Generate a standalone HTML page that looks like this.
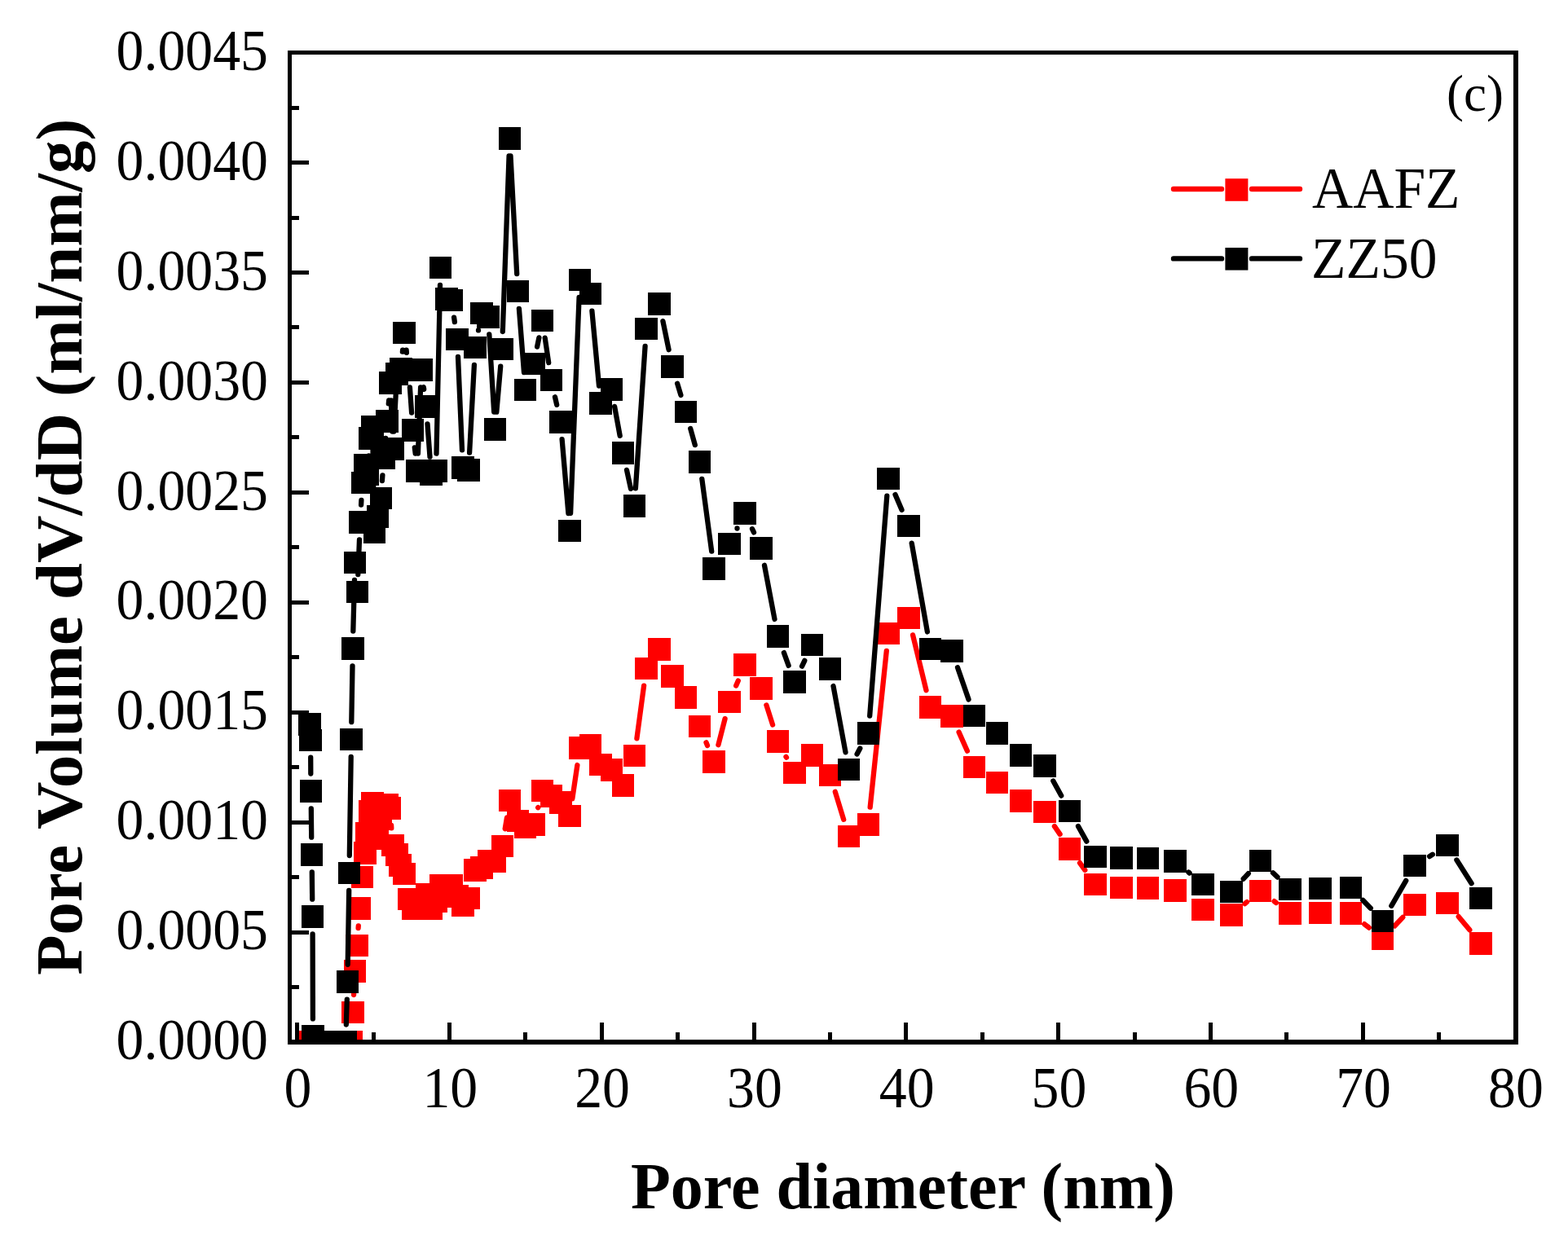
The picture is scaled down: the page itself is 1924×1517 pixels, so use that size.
<!DOCTYPE html>
<html><head><meta charset="utf-8"><title>Pore size distribution</title>
<style>html,body{margin:0;padding:0;background:#fff;width:1924px;height:1517px;overflow:hidden}svg{display:block}</style>
</head><body>
<svg width="1924" height="1517" viewBox="0 0 1924 1517">
<rect width="1924" height="1517" fill="#fff"/>
<defs><clipPath id="c"><rect x="355.5" y="64.65" width="1504.5" height="1214.25"/></clipPath></defs>
<g clip-path="url(#c)">
<path d="M434.1 1221L434.4 1213.4M439.6 1139L439.8 1136.3M480.1 1013L480.3 1016.3M619.7 1017.3L622 1003.4M660.2 991.2L660.3 991.1M702.3 980.2L708.4 939M781.4 906.3L790.1 841.6M866.5 911.3L868 915M881.4 914.2L889.6 882.1M903.2 841.6L905.8 835.6M940.4 865.4L948.1 889.6M964.5 928.9L965 929.7M1024.8 971.8L1035.2 1005.8M1067.7 990.7L1087.8 798.8M1120.1 779.4L1136.5 847.2M1176.6 898.6L1186.9 921.7M1293.9 1014.1L1300.6 1023.9M1325 1059.1L1331.3 1067.9M1527.5 1109.2L1530 1107M1563.6 1106.2L1565.9 1108M1674.2 1134.2L1679.8 1138.6M1711.2 1136.5L1721.3 1125.8M1789.7 1124.9L1803.3 1141.3" fill="none" stroke="#ff0000" stroke-width="6.3" stroke-linecap="round"/>
<path d="M366.9 1265.1h27.6v27.6h-27.6zM367.7 1265.1h27.6v27.6h-27.6zM368.7 1265.1h27.6v27.6h-27.6zM369.7 1265.1h27.6v27.6h-27.6zM370.2 1265.1h27.6v27.6h-27.6zM372.2 1265.1h27.6v27.6h-27.6zM373 1265.1h27.6v27.6h-27.6zM373.8 1265.1h27.6v27.6h-27.6zM374.6 1265.1h27.6v27.6h-27.6zM375.4 1265.1h27.6v27.6h-27.6zM376.3 1265.1h27.6v27.6h-27.6zM377.2 1265.1h27.6v27.6h-27.6zM378.2 1265.1h27.6v27.6h-27.6zM379.2 1265.1h27.6v27.6h-27.6zM380.2 1265.1h27.6v27.6h-27.6zM381.3 1265.1h27.6v27.6h-27.6zM382.3 1265.1h27.6v27.6h-27.6zM383.5 1265.1h27.6v27.6h-27.6zM384.7 1265.1h27.6v27.6h-27.6zM385.9 1265.1h27.6v27.6h-27.6zM387.1 1265.1h27.6v27.6h-27.6zM388.4 1265.1h27.6v27.6h-27.6zM389.8 1265.1h27.6v27.6h-27.6zM391.2 1265.1h27.6v27.6h-27.6zM392.7 1265.1h27.6v27.6h-27.6zM394.2 1265.1h27.6v27.6h-27.6zM395.7 1265.1h27.6v27.6h-27.6zM397.3 1265.1h27.6v27.6h-27.6zM399 1265.1h27.6v27.6h-27.6zM400.7 1265.1h27.6v27.6h-27.6zM402.5 1265.1h27.6v27.6h-27.6zM404.4 1265.1h27.6v27.6h-27.6zM406.3 1265.1h27.6v27.6h-27.6zM408.3 1265.1h27.6v27.6h-27.6zM410.4 1265.1h27.6v27.6h-27.6zM412.6 1265.1h27.6v27.6h-27.6zM414.7 1265.1h27.6v27.6h-27.6zM417.3 1265.1h27.6v27.6h-27.6zM419.2 1228.6h27.6v27.6h-27.6zM421.7 1178.2h27.6v27.6h-27.6zM424.3 1146.5h27.6v27.6h-27.6zM427.5 1101.2h27.6v27.6h-27.6zM430.5 1062.7h27.6v27.6h-27.6zM434 1033h27.6v27.6h-27.6zM436 1008.9h27.6v27.6h-27.6zM440.2 982h27.6v27.6h-27.6zM443 972.1h27.6v27.6h-27.6zM445.5 986.2h27.6v27.6h-27.6zM449.5 1015.3h27.6v27.6h-27.6zM453.5 991.2h27.6v27.6h-27.6zM457.2 976.2h27.6v27.6h-27.6zM461.2 974h27.6v27.6h-27.6zM464.4 977.9h27.6v27.6h-27.6zM468.4 1023.8h27.6v27.6h-27.6zM473.4 1034.9h27.6v27.6h-27.6zM477.2 1047.9h27.6v27.6h-27.6zM482.2 1058.5h27.6v27.6h-27.6zM488 1089.5h27.6v27.6h-27.6zM493 1100.9h27.6v27.6h-27.6zM498.2 1091.2h27.6v27.6h-27.6zM503.2 1096.2h27.6v27.6h-27.6zM509.8 1084h27.6v27.6h-27.6zM515.4 1101.2h27.6v27.6h-27.6zM521.4 1092.4h27.6v27.6h-27.6zM527 1073h27.6v27.6h-27.6zM534.2 1076.2h27.6v27.6h-27.6zM540.4 1073h27.6v27.6h-27.6zM547.2 1086.2h27.6v27.6h-27.6zM554.4 1097.2h27.6v27.6h-27.6zM561.4 1088.6h27.6v27.6h-27.6zM569.4 1054.4h27.6v27.6h-27.6zM577 1051h27.6v27.6h-27.6zM586 1043h27.6v27.6h-27.6zM593.4 1043.2h27.6v27.6h-27.6zM602.5 1024.6h27.6v27.6h-27.6zM611.6 968.5h27.6v27.6h-27.6zM621.5 993.8h27.6v27.6h-27.6zM630.8 1001h27.6v27.6h-27.6zM641.2 998.1h27.6v27.6h-27.6zM651.7 956.6h27.6v27.6h-27.6zM662.6 963.2h27.6v27.6h-27.6zM674 970.9h27.6v27.6h-27.6zM685.4 987.6h27.6v27.6h-27.6zM697.7 904h27.6v27.6h-27.6zM710.6 901h27.6v27.6h-27.6zM723.2 924.6h27.6v27.6h-27.6zM736.5 930.9h27.6v27.6h-27.6zM750.7 950.2h27.6v27.6h-27.6zM764.7 913.7h27.6v27.6h-27.6zM779.2 806.6h27.6v27.6h-27.6zM795.2 783.2h27.6v27.6h-27.6zM811.2 816h27.6v27.6h-27.6zM827.7 842h27.6v27.6h-27.6zM844.7 877.6h27.6v27.6h-27.6zM862.2 921.1h27.6v27.6h-27.6zM881.2 847.6h27.6v27.6h-27.6zM900.2 802h27.6v27.6h-27.6zM920.2 831.2h27.6v27.6h-27.6zM940.7 896.2h27.6v27.6h-27.6zM961.2 934.8h27.6v27.6h-27.6zM982.6 913.2h27.6v27.6h-27.6zM1004.8 937.5h27.6v27.6h-27.6zM1027.6 1012.5h27.6v27.6h-27.6zM1051.7 998.2h27.6v27.6h-27.6zM1076.2 763.7h27.6v27.6h-27.6zM1101.2 744.8h27.6v27.6h-27.6zM1127.8 854.2h27.6v27.6h-27.6zM1154.2 865.2h27.6v27.6h-27.6zM1181.7 927.5h27.6v27.6h-27.6zM1209.6 946.6h27.6v27.6h-27.6zM1238.6 969h27.6v27.6h-27.6zM1268.2 982.5h27.6v27.6h-27.6zM1298.7 1027.9h27.6v27.6h-27.6zM1330 1071.5h27.6v27.6h-27.6zM1362.2 1075.5h27.6v27.6h-27.6zM1394.7 1076h27.6v27.6h-27.6zM1428.2 1079.4h27.6v27.6h-27.6zM1462.2 1102.5h27.6v27.6h-27.6zM1497.2 1109h27.6v27.6h-27.6zM1532.7 1079.6h27.6v27.6h-27.6zM1569.2 1107h27.6v27.6h-27.6zM1606.2 1106.6h27.6v27.6h-27.6zM1643.7 1107h27.6v27.6h-27.6zM1682.7 1138.2h27.6v27.6h-27.6zM1722.2 1096.5h27.6v27.6h-27.6zM1762.2 1094.6h27.6v27.6h-27.6zM1803.2 1144h27.6v27.6h-27.6z" fill="#ff0000" shape-rendering="crispEdges"/>
<path d="M381.2 929.7L381.3 949.5M381.8 992.3L382.2 1027.6M382.8 1070.4L383.2 1103.6M383.6 1146.4L383.9 1250.4M424.8 1257.5L425.8 1226.6M426.7 1183.8L428.2 1092.8M428.8 1050L430.7 928.9M431.3 886.1L432.5 817.4M433.3 774.6L435 711.9M439.3 705.1L441 662.4M443.1 619.6L443.4 614M452.5 560.6L452.5 559.4M457.4 545.4L458.9 631.6M468.9 590.1L469.4 583.3M472.9 540.7L473.1 538M476.8 495.4L477.2 491.3M479.8 491.4L481.4 529.6M483.3 529.6L485.9 480.4M493.9 431.7L494.1 429.7M498.6 429.6L498.9 432.8M502.9 475.4L505.1 506.6M508.8 549.3L509.7 556.7M512.9 556.6L516.1 475.4M519.8 475.2L520.2 477.8M524.5 520.3L527.5 560.7M535.5 556.6L540 349.8M557.1 389.6L557.9 395.2M562 437.8L567 552.3M576.1 555.6L581.9 447.8M587 405.4L587 405.4M600.3 410.4L606.2 505.6M609.3 505.7L614.2 449.7M616.8 407L624.6 191.4M626.5 191.4L634.2 336.1M636.9 378.8L643 457.1M659.1 425.6L661.4 414.4M668.7 414.6L673.2 445.1M681 487.2L683.2 496.9M689.6 539.1L697.4 630.1M700.1 630L710.6 364.8M726.4 381.7L735 473.5M754.1 498.9L760.7 534.9M769 576.9L774 599.8M779.9 599.3L791.6 424.9M813.4 394.2L820.6 429.2M831.1 470.7L835.4 484.9M847.2 526L852.8 546.1M861.3 587.9L873.2 676.6M904.5 648.5L904.5 648.5M923 649.2L925 653.4M938 693.8L950.5 760M961.9 801.1L967.6 816.9M984.1 817.6L987.3 810.8M1022.5 842L1037.5 923.3M1051.6 925.5L1055.3 918.6M1067.2 878.5L1088.3 608.7M1098.5 607.1L1106.5 625.8M1118.7 666.6L1137.9 775.5M1175 819.2L1188.5 858.4M1292.3 958.6L1302.2 976.6M1323 1014.1L1333.3 1032.6M1458.4 1070.5L1459.6 1071.5M1525.7 1078.7L1531.8 1072.1M1562 1071.3L1567.5 1076.6M1672.2 1104.8L1681.8 1114.8M1707.3 1111.8L1725.2 1080.9M1754.1 1051.1L1757.9 1048.7M1787.4 1055.5L1805.6 1084.2" fill="none" stroke="#000" stroke-width="6.3" stroke-linecap="round"/>
<path d="M366.2 875h27.6v27.6h-27.6zM367.2 894.5h27.6v27.6h-27.6zM367.7 957.1h27.6v27.6h-27.6zM368.7 1035.2h27.6v27.6h-27.6zM369.7 1111.2h27.6v27.6h-27.6zM370.2 1258h27.6v27.6h-27.6zM372.2 1265.1h27.6v27.6h-27.6zM373 1265.1h27.6v27.6h-27.6zM373.8 1265.1h27.6v27.6h-27.6zM374.6 1265.1h27.6v27.6h-27.6zM375.4 1265.1h27.6v27.6h-27.6zM376.3 1265.1h27.6v27.6h-27.6zM377.2 1265.1h27.6v27.6h-27.6zM378.2 1265.1h27.6v27.6h-27.6zM379.2 1265.1h27.6v27.6h-27.6zM380.2 1265.1h27.6v27.6h-27.6zM381.3 1265.1h27.6v27.6h-27.6zM382.3 1265.1h27.6v27.6h-27.6zM383.5 1265.1h27.6v27.6h-27.6zM384.7 1265.1h27.6v27.6h-27.6zM385.9 1265.1h27.6v27.6h-27.6zM387.1 1265.1h27.6v27.6h-27.6zM388.4 1265.1h27.6v27.6h-27.6zM389.8 1265.1h27.6v27.6h-27.6zM391.2 1265.1h27.6v27.6h-27.6zM392.7 1265.1h27.6v27.6h-27.6zM394.2 1265.1h27.6v27.6h-27.6zM395.7 1265.1h27.6v27.6h-27.6zM397.3 1265.1h27.6v27.6h-27.6zM399 1265.1h27.6v27.6h-27.6zM400.7 1265.1h27.6v27.6h-27.6zM402.5 1265.1h27.6v27.6h-27.6zM404.4 1265.1h27.6v27.6h-27.6zM406.3 1265.1h27.6v27.6h-27.6zM408.3 1265.1h27.6v27.6h-27.6zM410.4 1265.1h27.6v27.6h-27.6zM412.6 1191.4h27.6v27.6h-27.6zM414.7 1057.6h27.6v27.6h-27.6zM417.2 893.7h27.6v27.6h-27.6zM419 782.2h27.6v27.6h-27.6zM421.7 676.7h27.6v27.6h-27.6zM424.7 712.7h27.6v27.6h-27.6zM428 627.2h27.6v27.6h-27.6zM430.9 578.8h27.6v27.6h-27.6zM434.2 557.2h27.6v27.6h-27.6zM437.2 568.2h27.6v27.6h-27.6zM440.2 524.2h27.6v27.6h-27.6zM443.2 510.2h27.6v27.6h-27.6zM445.5 639.2h27.6v27.6h-27.6zM449.5 620.2h27.6v27.6h-27.6zM453.5 597.6h27.6v27.6h-27.6zM457.2 548.2h27.6v27.6h-27.6zM461.2 502.9h27.6v27.6h-27.6zM465.2 456.2h27.6v27.6h-27.6zM468.4 537.2h27.6v27.6h-27.6zM473.2 445.2h27.6v27.6h-27.6zM478.2 439.2h27.6v27.6h-27.6zM482.2 394.6h27.6v27.6h-27.6zM487.7 440.2h27.6v27.6h-27.6zM492.7 514.2h27.6v27.6h-27.6zM498.2 564.2h27.6v27.6h-27.6zM503.2 440.2h27.6v27.6h-27.6zM509.2 485.2h27.6v27.6h-27.6zM515.2 568.2h27.6v27.6h-27.6zM521.2 564.2h27.6v27.6h-27.6zM526.7 314.6h27.6v27.6h-27.6zM534.2 353.2h27.6v27.6h-27.6zM540.2 354.6h27.6v27.6h-27.6zM547.2 402.6h27.6v27.6h-27.6zM554.2 559.9h27.6v27.6h-27.6zM561.2 563.2h27.6v27.6h-27.6zM569.2 412.6h27.6v27.6h-27.6zM577.2 370.7h27.6v27.6h-27.6zM585.2 375.2h27.6v27.6h-27.6zM593.7 513.2h27.6v27.6h-27.6zM602.2 414.6h27.6v27.6h-27.6zM611.6 156.2h27.6v27.6h-27.6zM621.5 343.7h27.6v27.6h-27.6zM630.8 464.6h27.6v27.6h-27.6zM641.2 432.8h27.6v27.6h-27.6zM651.7 379.6h27.6v27.6h-27.6zM662.6 452.5h27.6v27.6h-27.6zM674 504h27.6v27.6h-27.6zM685.4 637.6h27.6v27.6h-27.6zM697.7 329.6h27.6v27.6h-27.6zM710.6 346.6h27.6v27.6h-27.6zM723.2 481h27.6v27.6h-27.6zM736.5 464h27.6v27.6h-27.6zM750.7 542.2h27.6v27.6h-27.6zM764.7 606.9h27.6v27.6h-27.6zM779.2 389.7h27.6v27.6h-27.6zM795.2 359.4h27.6v27.6h-27.6zM811.2 436.4h27.6v27.6h-27.6zM827.7 491.6h27.6v27.6h-27.6zM844.7 552.9h27.6v27.6h-27.6zM862.2 684h27.6v27.6h-27.6zM881.2 653.5h27.6v27.6h-27.6zM900.2 616h27.6v27.6h-27.6zM920.2 659h27.6v27.6h-27.6zM940.7 767.2h27.6v27.6h-27.6zM961.2 823.2h27.6v27.6h-27.6zM982.6 777.6h27.6v27.6h-27.6zM1004.8 807.2h27.6v27.6h-27.6zM1027.6 930.5h27.6v27.6h-27.6zM1051.7 886h27.6v27.6h-27.6zM1076.2 573.6h27.6v27.6h-27.6zM1101.2 631.7h27.6v27.6h-27.6zM1127.8 782.8h27.6v27.6h-27.6zM1154.2 785.2h27.6v27.6h-27.6zM1181.7 864.8h27.6v27.6h-27.6zM1209.6 886h27.6v27.6h-27.6zM1238.6 913.2h27.6v27.6h-27.6zM1268.2 926h27.6v27.6h-27.6zM1298.7 981.6h27.6v27.6h-27.6zM1330 1037.5h27.6v27.6h-27.6zM1362.2 1039.2h27.6v27.6h-27.6zM1394.7 1039.6h27.6v27.6h-27.6zM1428.2 1042.9h27.6v27.6h-27.6zM1462.2 1071.5h27.6v27.6h-27.6zM1497.2 1080.5h27.6v27.6h-27.6zM1532.7 1042.7h27.6v27.6h-27.6zM1569.2 1077.6h27.6v27.6h-27.6zM1606.2 1076.6h27.6v27.6h-27.6zM1643.7 1075.5h27.6v27.6h-27.6zM1682.7 1116.5h27.6v27.6h-27.6zM1722.2 1048.6h27.6v27.6h-27.6zM1762.2 1023.6h27.6v27.6h-27.6zM1803.2 1088.5h27.6v27.6h-27.6z" fill="#000" shape-rendering="crispEdges"/>
</g>
<path d="M364.7 1277.9V1255.2M458.1 1277.9V1267M551.5 1277.9V1255.2M644.9 1277.9V1267M738.3 1277.9V1255.2M831.7 1277.9V1267M925.1 1277.9V1255.2M1018.5 1277.9V1267M1111.9 1277.9V1255.2M1205.3 1277.9V1267M1298.7 1277.9V1255.2M1392.1 1277.9V1267M1485.5 1277.9V1255.2M1578.9 1277.9V1267M1672.3 1277.9V1255.2M1765.7 1277.9V1267M356.5 1211.4H367M356.5 1144H379M356.5 1076.5H367M356.5 1009.1H379M356.5 941.6H367M356.5 874.1H379M356.5 806.7H367M356.5 739.2H379M356.5 671.8H367M356.5 604.3H379M356.5 536.8H367M356.5 469.4H379M356.5 401.9H367M356.5 334.5H379M356.5 267H367M356.5 199.5H379M356.5 132.1H367" stroke="#000" stroke-width="5" fill="none" shape-rendering="crispEdges"/>
<rect x="355.5" y="64.65" width="1504.5" height="1214.25" fill="none" stroke="#000" stroke-width="5.4" shape-rendering="crispEdges"/>
<g font-family="Liberation Serif, 'Times New Roman', serif" fill="#000">
<g font-size="67.8" text-anchor="middle"><text transform="translate(365.5 1358.5) scale(1 1.045)">0</text><text transform="translate(552.3 1358.5) scale(1 1.045)">10</text><text transform="translate(739.1 1358.5) scale(1 1.045)">20</text><text transform="translate(925.9 1358.5) scale(1 1.045)">30</text><text transform="translate(1112.7 1358.5) scale(1 1.045)">40</text><text transform="translate(1299.5 1358.5) scale(1 1.045)">50</text><text transform="translate(1486.3 1358.5) scale(1 1.045)">60</text><text transform="translate(1673.1 1358.5) scale(1 1.045)">70</text><text transform="translate(1859.9 1358.5) scale(1 1.045)">80</text></g>
<g font-size="67.8" text-anchor="end"><text transform="translate(329 1300.1) scale(1 1.045)">0.0000</text><text transform="translate(329 1165.2) scale(1 1.045)">0.0005</text><text transform="translate(329 1030.3) scale(1 1.045)">0.0010</text><text transform="translate(329 895.3) scale(1 1.045)">0.0015</text><text transform="translate(329 760.4) scale(1 1.045)">0.0020</text><text transform="translate(329 625.5) scale(1 1.045)">0.0025</text><text transform="translate(329 490.6) scale(1 1.045)">0.0030</text><text transform="translate(329 355.7) scale(1 1.045)">0.0035</text><text transform="translate(329 220.7) scale(1 1.045)">0.0040</text><text transform="translate(329 85.8) scale(1 1.045)">0.0045</text></g>
<text x="774" y="1482.7" font-size="80" font-weight="bold">Pore diameter (nm)</text>
<text transform="translate(99.9 1196.8) rotate(-90)" font-size="80.8" font-weight="bold">Pore Volume dV/dD (ml/nm/g)</text>
<text x="1775" y="136.4" font-size="63">(c)</text>
<g font-size="69.5">
<text transform="translate(1610 255.4) scale(1 1.03)">AAFZ</text>
<text transform="translate(1609 341) scale(1 1.03)">ZZ50</text>
</g>
</g>
<g stroke-width="6.4" stroke-linecap="round">
<path d="M1440 232H1499M1536 232H1595" stroke="#ff0000"/>
<path d="M1440 317.4H1499M1536 317.4H1595" stroke="#000"/>
</g>
<rect x="1503.4" y="219.2" width="28" height="27.6" fill="#ff0000"/>
<rect x="1503.4" y="304" width="28" height="27.6" fill="#000"/>
</svg>
</body></html>
